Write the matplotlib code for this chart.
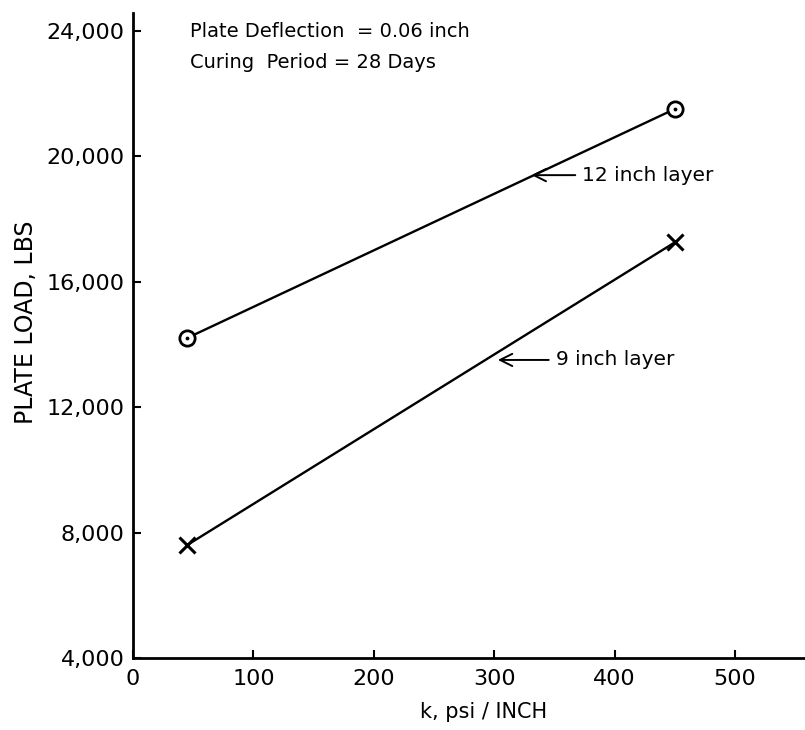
import numpy as np
import matplotlib
matplotlib.use('Agg')
import matplotlib.pyplot as plt

# data
k_values = [45, 450]                  # k, psi / inch
load_12in = [14200, 21500]            # plate load, lbs, 12 inch layer
load_9in = [7600, 17250]              # plate load, lbs, 9 inch layer

x_ticks = [0, 100, 200, 300, 400, 500]
y_ticks = [4000, 8000, 12000, 16000, 20000, 24000]
y_tick_labels = ['4,000', '8,000', '12,000', '16,000', '20,000', '24,000']

plt.rcParams['font.family'] = 'DejaVu Sans'

fig = plt.figure(figsize=(8.05, 7.3), dpi=100)
ax = fig.add_axes([0.1652, 0.0986, 0.8348, 0.8836])

# 12 inch layer: circles with a dot in the middle
ax.plot(k_values, load_12in, color='black', lw=1.7, zorder=2)
ax.plot(k_values, load_12in, 'o', ms=11, mfc='white', mec='black', mew=2, zorder=3)
ax.plot(k_values, load_12in, '.', ms=3.5, color='black', zorder=4)

# 9 inch layer: crosses
ax.plot(k_values, load_9in, color='black', lw=1.7, zorder=2)
ax.plot(k_values, load_9in, 'x', ms=11, mec='black', mew=2.2, zorder=3)

arrow = dict(arrowstyle='->', lw=1.4, color='black', shrinkA=3, shrinkB=0,
             mutation_scale=22, relpos=(0, 0.5))
ax.annotate('12 inch layer', xy=(331, 19390), xytext=(373, 19390),
            ha='left', va='center', fontsize=14.5, arrowprops=arrow)
ax.annotate('9 inch layer', xy=(303, 13500), xytext=(351, 13500),
            ha='left', va='center', fontsize=14.5, arrowprops=arrow)

fig.text(0.236, 0.9575, 'Plate Deflection  = 0.06 inch', fontsize=14, va='center')
fig.text(0.236, 0.915, 'Curing  Period = 28 Days', fontsize=14, va='center')

ax.set_xlim(0, 558)
ax.set_ylim(4000, 24558)
ax.set_xticks(x_ticks)
ax.set_yticks(y_ticks)
ax.set_yticklabels(y_tick_labels)
ax.tick_params(axis='both', direction='in', length=6, width=1.5, labelsize=16)
ax.tick_params(axis='y', pad=6)
ax.tick_params(axis='x', pad=8)

for side in ['top', 'right']:
    ax.spines[side].set_visible(False)
for side in ['left', 'bottom']:
    ax.spines[side].set_linewidth(2)

ax.set_xlabel('k, psi / INCH', fontsize=15)
ax.xaxis.set_label_coords(0.521, -0.068)
ax.set_ylabel('PLATE LOAD, LBS', fontsize=17)
ax.yaxis.set_label_coords(-0.142, 0.521)

fig.savefig('out.png', dpi=100)
